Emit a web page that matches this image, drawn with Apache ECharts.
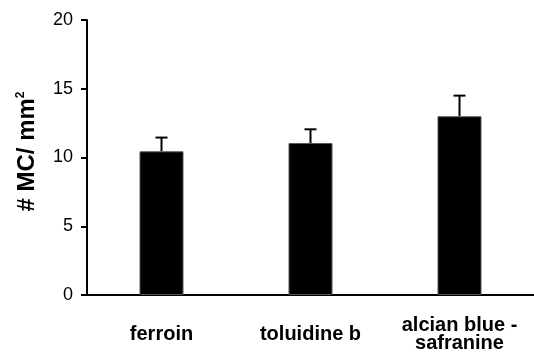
<!DOCTYPE html>
<html>
<head>
<meta charset="utf-8">
<script src="https://cdn.jsdelivr.net/npm/echarts@6/dist/echarts.min.js"></script>
<style>html,body{margin:0;padding:0;background:#fff;}#c{width:534px;height:353px;}</style>
</head>
<body>
<div id="c"></div>
<script>
const categories = ['ferroin', 'toluidine b', 'alcian blue -\nsafranine'];
const means = [10.45, 11.05, 13.0];
const upperErr = [11.45, 12.05, 14.5];
const yTicks = [0, 5, 10, 15, 20];

const chart = echarts.init(document.getElementById('c'), null, {renderer: 'canvas'});
chart.setOption({
  animation: false,
  grid: {left: 87, right: 0, top: 20, bottom: 57},
  xAxis: {
    type: 'category',
    data: categories,
    axisLine: {lineStyle: {color: '#000', width: 2}},
    axisTick: {show: false},
    axisLabel: {color: '#000', fontFamily: 'Liberation Sans', fontWeight: 'bold', fontSize: 20, margin: 39,
      lineHeight: 18, verticalAlign: 'middle', interval: 0}
  },
  yAxis: {
    type: 'value', min: 0, max: 20, interval: 5,
    name: '# MC/ mm{s|2}',
    nameLocation: 'middle',
    nameGap: 48,
    nameTextStyle: {color: '#000', fontFamily: 'Liberation Sans', fontWeight: 'bold', fontSize: 24, padding: [0, 0, 0, 12],
      rich: {s: {fontSize: 12, fontWeight: 'bold', fontFamily: 'Liberation Sans', verticalAlign: 'top', padding: [0,0,12,0]}}},
    axisLine: {show: true, lineStyle: {color: '#000', width: 2}},
    axisTick: {show: true, inside: false, length: 6, lineStyle: {color: '#000', width: 2}},
    axisLabel: {color: '#000', fontFamily: 'Liberation Sans', fontSize: 18, margin: 14,
      formatter: v => yTicks.includes(v) ? String(v) : ''},
    splitLine: {show: false}
  },
  series: [
    {
      type: 'bar', data: means, barWidth: 44,
      itemStyle: {color: '#000', borderColor: '#555', borderWidth: 1}
    },
    {
      type: 'custom',
      data: upperErr.map((v, i) => [i, means[i], v]),
      z: 1,
      renderItem: function (params, api) {
        const base = api.coord([api.value(0), api.value(1)]);
        const top = api.coord([api.value(0), api.value(2)]);
        const hw = 6;
        return {
          type: 'group',
          children: [
            {type: 'line', shape: {x1: base[0], y1: base[1], x2: top[0], y2: top[1]}, style: {stroke: '#000', lineWidth: 2}},
            {type: 'line', shape: {x1: top[0] - hw, y1: top[1], x2: top[0] + hw, y2: top[1]}, style: {stroke: '#000', lineWidth: 2}}
          ]
        };
      }
    }
  ]
});
</script>
</body>
</html>
